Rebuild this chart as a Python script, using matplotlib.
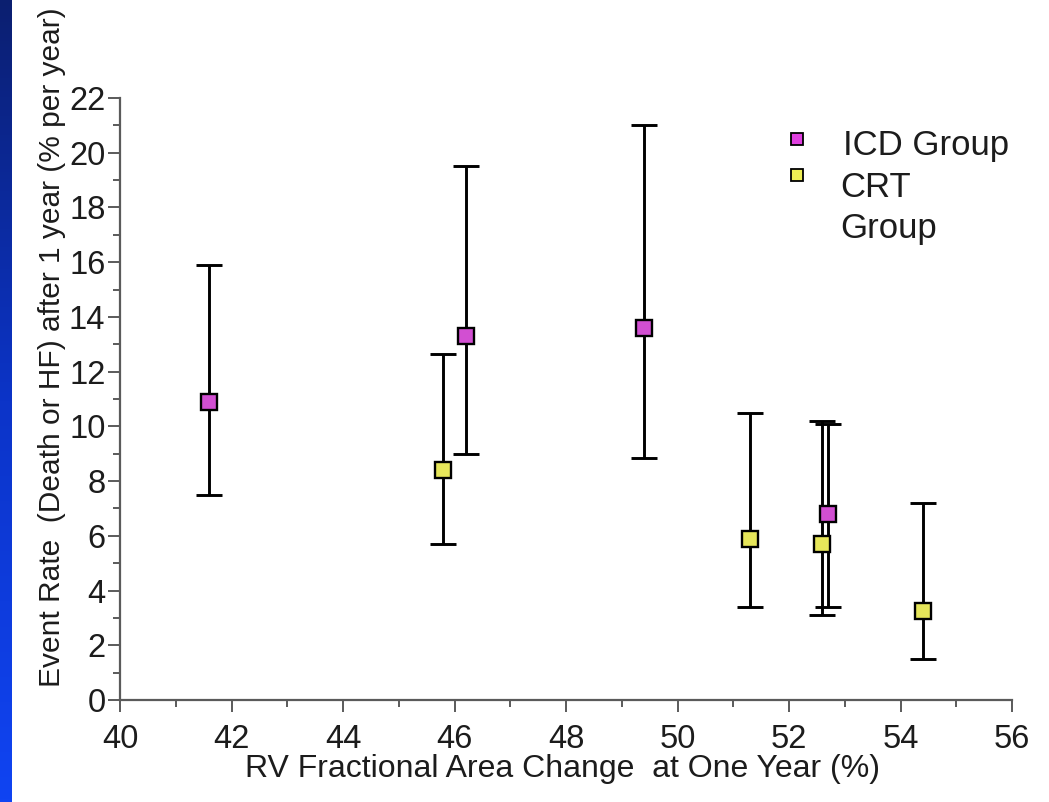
import numpy as np
import matplotlib.pyplot as plt
from matplotlib.colors import LinearSegmentedColormap

plt.rcParams['font.family'] = ['Liberation Sans', 'DejaVu Sans']

# ICD group: RV FAC at one year vs event rate with CI bounds
icd_fac = [41.6, 46.2, 49.4, 52.7]
icd_rate = [10.9, 13.3, 13.6, 6.8]
icd_low = [7.5, 9.0, 8.85, 3.4]
icd_high = [15.9, 19.5, 21.0, 10.1]

# CRT group
crt_fac = [45.8, 51.3, 52.6, 54.4]
crt_rate = [8.4, 5.9, 5.7, 3.25]
crt_low = [5.7, 3.4, 3.1, 1.5]
crt_high = [12.65, 10.5, 10.2, 7.2]

x_ticks = [40, 42, 44, 46, 48, 50, 52, 54, 56]
y_ticks = [0, 2, 4, 6, 8, 10, 12, 14, 16, 18, 20, 22]

ICD_COLOR = '#d24fd2'
CRT_COLOR = '#e6e65a'
TEXT_COLOR = '#1c1c1c'
AXIS_COLOR = '#5a5a5a'

fig = plt.figure(figsize=(10.49, 8.02), dpi=100)

# blue slide strip on the left edge
band = fig.add_axes([0, 0, 12 / 1049, 1])
cmap = LinearSegmentedColormap.from_list('slide', ['#0b1f70', '#0c34c8', '#1044f2'])
band.imshow(np.linspace(0, 1, 256).reshape(-1, 1), aspect='auto', cmap=cmap)
band.axis('off')

ax = fig.add_axes([120 / 1049, 102 / 802, 892 / 1049, 602 / 802])


def draw_group(xs, ys, lo, hi, color):
    ys = np.asarray(ys)
    yerr = [ys - np.asarray(lo), np.asarray(hi) - ys]
    ax.errorbar(xs, ys, yerr=yerr, fmt='none', ecolor='black',
                elinewidth=2.1, capsize=9.5, capthick=2.1, zorder=2)
    ax.plot(xs, ys, 's', color=color, markersize=11, markeredgecolor='black',
            markeredgewidth=1.7, zorder=3, clip_on=False)


draw_group(icd_fac, icd_rate, icd_low, icd_high, ICD_COLOR)
draw_group(crt_fac, crt_rate, crt_low, crt_high, CRT_COLOR)

ax.set_xlim(40, 56)
ax.set_ylim(0, 22)
ax.set_xticks(x_ticks)
ax.set_yticks(y_ticks)
ax.set_xticks(np.arange(41, 56, 2), minor=True)
ax.set_yticks(np.arange(1, 22, 2), minor=True)

for side in ['top', 'right']:
    ax.spines[side].set_visible(False)
for side in ['left', 'bottom']:
    ax.spines[side].set_color(AXIS_COLOR)
    ax.spines[side].set_linewidth(1.6)

ax.tick_params(which='major', length=8.5, width=1.4, color=AXIS_COLOR,
               labelsize=23.5, labelcolor=TEXT_COLOR)
ax.tick_params(which='minor', length=5, width=1.4, color=AXIS_COLOR)
ax.tick_params(axis='x', which='major', pad=9)
ax.tick_params(axis='y', which='major', pad=2)

ax.set_xlabel('RV Fractional Area Change  at One Year (%)', fontsize=23, color=TEXT_COLOR,
              va='baseline')
ax.set_ylabel('Event Rate  (Death or HF) after 1 year (% per year)', fontsize=21.5, color=TEXT_COLOR)
ax.xaxis.set_label_coords(0.496, -0.128)
ax.yaxis.set_label_coords(-0.061, 0.586)

# hand-placed legend like the original slide
ax.plot([0.759], [0.932], 's', color='#e040e0', markersize=9, markeredgecolor='black',
        markeredgewidth=1.3, transform=ax.transAxes, clip_on=False)
ax.plot([0.759], [0.872], 's', color='#eeee55', markersize=9, markeredgecolor='black',
        markeredgewidth=1.3, transform=ax.transAxes, clip_on=False)
ax.text(0.811, 0.905, 'ICD Group', fontsize=25, color=TEXT_COLOR, transform=ax.transAxes, va='baseline')
ax.text(0.808, 0.836, 'CRT', fontsize=25, color=TEXT_COLOR, transform=ax.transAxes, va='baseline')
ax.text(0.808, 0.768, 'Group', fontsize=25, color=TEXT_COLOR, transform=ax.transAxes, va='baseline')

fig.savefig('out.png', dpi=100)
